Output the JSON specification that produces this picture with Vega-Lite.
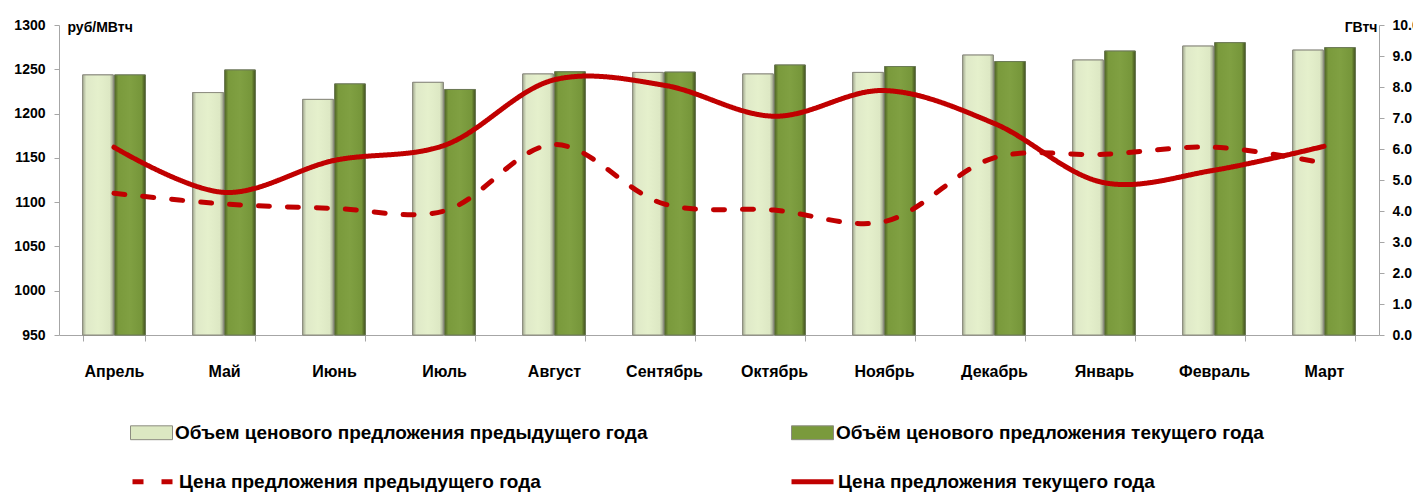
{
  "$schema": "https://vega.github.io/schema/vega-lite/v6.json",
  "width": 1320,
  "height": 310,
  "autosize": {"type": "none"},
  "padding": {"left": 59, "top": 25, "right": 34, "bottom": 162},
  "background": "white",
  "config": {
    "view": {"stroke": null},
    "font": "Liberation Sans",
    "axis": {"grid": false, "domainColor": "#a6a6a6", "tickColor": "#a6a6a6", "labelColor": "#000000", "labelFont": "Liberation Sans", "labelFontWeight": "bold", "titleFont": "Liberation Sans", "titleFontWeight": "bold", "titleColor": "#000000"},
    "legend": {"labelFont": "Liberation Sans", "labelFontWeight": "bold", "labelFontSize": 19, "labelColor": "#000000", "labelLimit": 800}
  },
  "datasets": {
    "vol": [
      {"month": "Апрель", "series": "Объем ценового предложения предыдущего года", "value": 8.39},
      {"month": "Апрель", "series": "Объём ценового предложения текущего года", "value": 8.39},
      {"month": "Май", "series": "Объем ценового предложения предыдущего года", "value": 7.82},
      {"month": "Май", "series": "Объём ценового предложения текущего года", "value": 8.55},
      {"month": "Июнь", "series": "Объем ценового предложения предыдущего года", "value": 7.60},
      {"month": "Июнь", "series": "Объём ценового предложения текущего года", "value": 8.10},
      {"month": "Июль", "series": "Объем ценового предложения предыдущего года", "value": 8.15},
      {"month": "Июль", "series": "Объём ценового предложения текущего года", "value": 7.92},
      {"month": "Август", "series": "Объем ценового предложения предыдущего года", "value": 8.42},
      {"month": "Август", "series": "Объём ценового предложения текущего года", "value": 8.49},
      {"month": "Сентябрь", "series": "Объем ценового предложения предыдущего года", "value": 8.47},
      {"month": "Сентябрь", "series": "Объём ценового предложения текущего года", "value": 8.48},
      {"month": "Октябрь", "series": "Объем ценового предложения предыдущего года", "value": 8.42},
      {"month": "Октябрь", "series": "Объём ценового предложения текущего года", "value": 8.71},
      {"month": "Ноябрь", "series": "Объем ценового предложения предыдущего года", "value": 8.47},
      {"month": "Ноябрь", "series": "Объём ценового предложения текущего года", "value": 8.66},
      {"month": "Декабрь", "series": "Объем ценового предложения предыдущего года", "value": 9.03},
      {"month": "Декабрь", "series": "Объём ценового предложения текущего года", "value": 8.82},
      {"month": "Январь", "series": "Объем ценового предложения предыдущего года", "value": 8.87},
      {"month": "Январь", "series": "Объём ценового предложения текущего года", "value": 9.16},
      {"month": "Февраль", "series": "Объем ценового предложения предыдущего года", "value": 9.32},
      {"month": "Февраль", "series": "Объём ценового предложения текущего года", "value": 9.43},
      {"month": "Март", "series": "Объем ценового предложения предыдущего года", "value": 9.19},
      {"month": "Март", "series": "Объём ценового предложения текущего года", "value": 9.27}
    ],
    "price": [
      {"month": "Апрель", "series": "Цена предложения предыдущего года", "value": 1110},
      {"month": "Май", "series": "Цена предложения предыдущего года", "value": 1098},
      {"month": "Июнь", "series": "Цена предложения предыдущего года", "value": 1093},
      {"month": "Июль", "series": "Цена предложения предыдущего года", "value": 1090},
      {"month": "Август", "series": "Цена предложения предыдущего года", "value": 1165},
      {"month": "Сентябрь", "series": "Цена предложения предыдущего года", "value": 1098},
      {"month": "Октябрь", "series": "Цена предложения предыдущего года", "value": 1091},
      {"month": "Ноябрь", "series": "Цена предложения предыдущего года", "value": 1078},
      {"month": "Декабрь", "series": "Цена предложения предыдущего года", "value": 1150},
      {"month": "Январь", "series": "Цена предложения предыдущего года", "value": 1154},
      {"month": "Февраль", "series": "Цена предложения предыдущего года", "value": 1162},
      {"month": "Март", "series": "Цена предложения предыдущего года", "value": 1144},
      {"month": "Апрель", "series": "Цена предложения текущего года", "value": 1162},
      {"month": "Май", "series": "Цена предложения текущего года", "value": 1111},
      {"month": "Июнь", "series": "Цена предложения текущего года", "value": 1147},
      {"month": "Июль", "series": "Цена предложения текущего года", "value": 1164},
      {"month": "Август", "series": "Цена предложения текущего года", "value": 1238},
      {"month": "Сентябрь", "series": "Цена предложения текущего года", "value": 1232},
      {"month": "Октябрь", "series": "Цена предложения текущего года", "value": 1197},
      {"month": "Ноябрь", "series": "Цена предложения текущего года", "value": 1226},
      {"month": "Декабрь", "series": "Цена предложения текущего года", "value": 1189},
      {"month": "Январь", "series": "Цена предложения текущего года", "value": 1122},
      {"month": "Февраль", "series": "Цена предложения текущего года", "value": 1136},
      {"month": "Март", "series": "Цена предложения текущего года", "value": 1163}
    ]
  },
  "layer": [
    {
      "data": {"name": "vol"},
      "mark": {"type": "bar", "stroke": "#8c8c80", "strokeWidth": 1},
      "encoding": {
        "x": {
          "field": "month", "type": "nominal",
          "sort": ["Апрель", "Май", "Июнь", "Июль", "Август", "Сентябрь", "Октябрь", "Ноябрь", "Декабрь", "Январь", "Февраль", "Март"],
          "scale": {"paddingInner": 0.43, "paddingOuter": 0.215},
          "axis": {"title": null, "labelAngle": 0, "labelFontSize": 16, "labelPadding": 22, "tickBand": "extent", "tickSize": 6}
        },
        "xOffset": {
          "field": "series", "type": "nominal",
          "sort": ["Объем ценового предложения предыдущего года", "Объём ценового предложения текущего года"],
          "scale": {"paddingInner": 0.04}
        },
        "y": {
          "field": "value", "type": "quantitative",
          "scale": {"domain": [0, 10], "nice": false},
          "axis": {"orient": "right", "values": [0, 1, 2, 3, 4, 5, 6, 7, 8, 9, 10], "format": ".1f", "labelFontSize": 14, "labelPadding": 8, "tickSize": 5, "title": "ГВтч", "titleAngle": 0, "titleAlign": "right", "titleBaseline": "middle", "titleX": -2, "titleY": 2, "titleFontSize": 14}
        },
        "fill": {
          "field": "series", "type": "nominal",
          "scale": {
            "domain": ["Объем ценового предложения предыдущего года", "Объём ценового предложения текущего года"],
            "range": ["#dce8c2", "#7a9a3c"]
          },
          "legend": {"title": null, "orient": "none", "legendX": 71, "legendY": 386, "direction": "horizontal", "columns": 2, "columnPadding": 141, "symbolType": "M-1,-0.33H1V0.33H-1Z", "symbolSize": 1764, "symbolStrokeColor": "#8c8c80", "symbolStrokeWidth": 1, "labelOffset": 2}
        }
      }
    },
    {
      "data": {"name": "vol"},
      "transform": [{"filter": "datum.series == 'Объем ценового предложения предыдущего года'"}],
      "mark": {"type": "bar", "stroke": "#8c8c80", "strokeWidth": 1,
        "fill": {"gradient": "linear", "x1": 0, "y1": 0, "x2": 1, "y2": 0, "stops": [{"offset": 0, "color": "#a4ab92"}, {"offset": 0.12, "color": "#dfe9c8"}, {"offset": 0.5, "color": "#e5f0cc"}, {"offset": 0.88, "color": "#dde8c4"}, {"offset": 1, "color": "#9ea68a"}]}},
      "encoding": {
        "x": {"field": "month", "type": "nominal", "sort": ["Апрель", "Май", "Июнь", "Июль", "Август", "Сентябрь", "Октябрь", "Ноябрь", "Декабрь", "Январь", "Февраль", "Март"]},
        "xOffset": {"field": "series", "type": "nominal", "sort": ["Объем ценового предложения предыдущего года", "Объём ценового предложения текущего года"]},
        "y": {"field": "value", "type": "quantitative", "scale": {"domain": [0, 10], "nice": false}, "axis": null}
      }
    },
    {
      "data": {"name": "vol"},
      "transform": [{"filter": "datum.series == 'Объём ценового предложения текущего года'"}],
      "mark": {"type": "bar", "stroke": "#6b7a55", "strokeWidth": 1,
        "fill": {"gradient": "linear", "x1": 0, "y1": 0, "x2": 1, "y2": 0, "stops": [{"offset": 0, "color": "#4e6223"}, {"offset": 0.12, "color": "#7a9a3c"}, {"offset": 0.5, "color": "#80a042"}, {"offset": 0.88, "color": "#76963a"}, {"offset": 1, "color": "#3e4d1b"}]}},
      "encoding": {
        "x": {"field": "month", "type": "nominal", "sort": ["Апрель", "Май", "Июнь", "Июль", "Август", "Сентябрь", "Октябрь", "Ноябрь", "Декабрь", "Январь", "Февраль", "Март"]},
        "xOffset": {"field": "series", "type": "nominal", "sort": ["Объем ценового предложения предыдущего года", "Объём ценового предложения текущего года"]},
        "y": {"field": "value", "type": "quantitative", "scale": {"domain": [0, 10], "nice": false}, "axis": null}
      }
    },
    {
      "data": {"name": "price"},
      "mark": {"type": "line", "interpolate": "catmull-rom", "color": "#c00000", "strokeWidth": 5, "strokeCap": "round"},
      "encoding": {
        "x": {
          "field": "month", "type": "nominal",
          "sort": ["Апрель", "Май", "Июнь", "Июль", "Август", "Сентябрь", "Октябрь", "Ноябрь", "Декабрь", "Январь", "Февраль", "Март"]
        },
        "y": {
          "field": "value", "type": "quantitative",
          "scale": {"domain": [950, 1300], "nice": false},
          "axis": {"orient": "left", "values": [950, 1000, 1050, 1100, 1150, 1200, 1250, 1300], "format": "d", "labelFontSize": 14, "labelPadding": 9, "tickSize": 5, "title": "руб/МВтч", "titleAngle": 0, "titleAlign": "left", "titleBaseline": "middle", "titleX": 8, "titleY": 2, "titleFontSize": 14}
        },
        "strokeDash": {
          "field": "series", "type": "nominal",
          "scale": {"domain": ["Цена предложения предыдущего года", "Цена предложения текущего года"], "range": [[11, 18], [1, 0]]},
          "legend": {"title": null, "orient": "none", "legendX": 71, "legendY": 433, "direction": "horizontal", "columns": 2, "columnPadding": 240, "symbolType": "stroke", "symbolSize": 1764, "symbolStrokeColor": "#c00000", "symbolStrokeWidth": 5, "labelOffset": 2}
        }
      }
    }
  ],
  "resolve": {"scale": {"y": "independent"}}
}
